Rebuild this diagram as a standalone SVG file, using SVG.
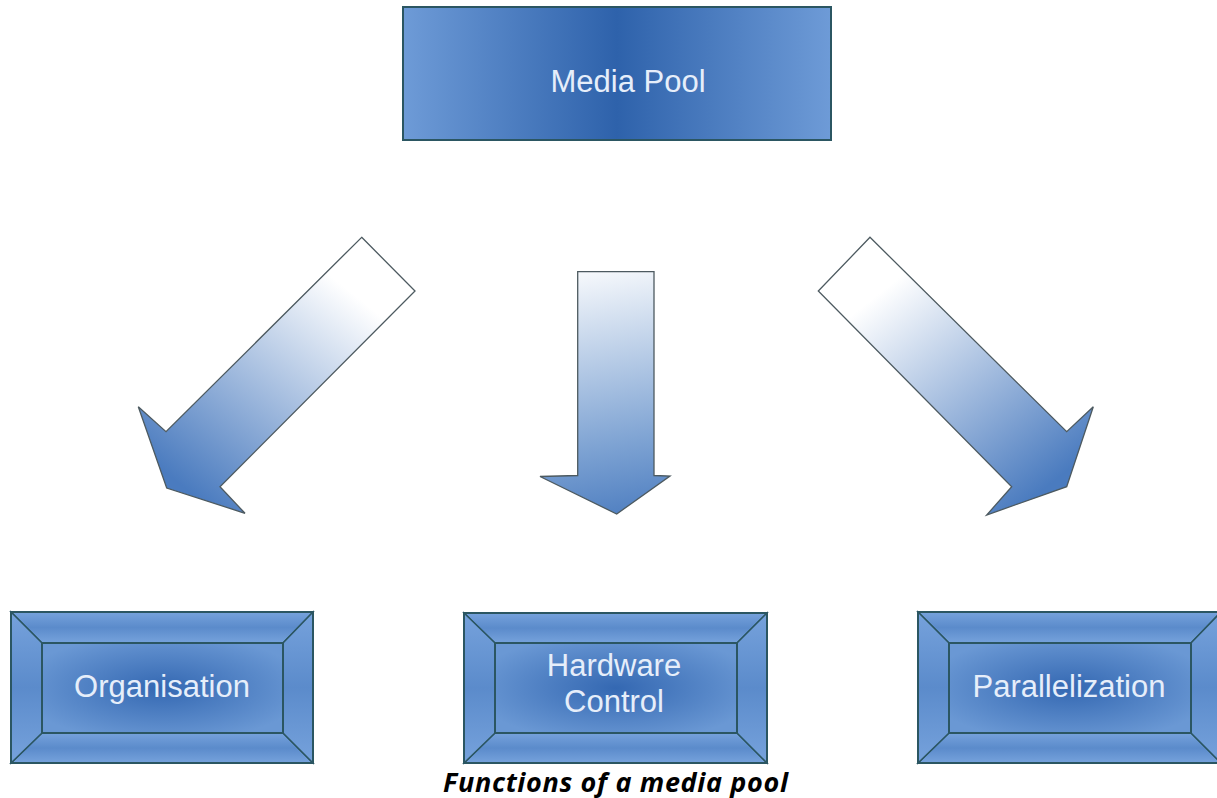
<svg xmlns="http://www.w3.org/2000/svg" width="1217" height="798" viewBox="0 0 1217 798">
<defs>
<linearGradient id="topGrad" x1="0" y1="0" x2="1" y2="0">
<stop offset="0" stop-color="#6e9bd7"/>
<stop offset="0.5" stop-color="#2e62ab"/>
<stop offset="1" stop-color="#6e9bd7"/>
</linearGradient>
<radialGradient id="innerGrad" cx="0.5" cy="0.5" r="0.6">
<stop offset="0" stop-color="#3468b2"/>
<stop offset="1" stop-color="#6a98d4"/>
</radialGradient>
<linearGradient id="bevelGrad" x1="0" y1="0" x2="0" y2="1">
<stop offset="0" stop-color="#76a2dc"/>
<stop offset="0.5" stop-color="#5b8bcb"/>
<stop offset="1" stop-color="#76a2dc"/>
</linearGradient>
<linearGradient id="arrowL" gradientUnits="userSpaceOnUse" x1="388" y1="264" x2="200" y2="500">
<stop offset="0.15" stop-color="#ffffff"/>
<stop offset="1" stop-color="#4a7bbf"/>
</linearGradient>
<linearGradient id="arrowM" gradientUnits="userSpaceOnUse" x1="600" y1="272" x2="640" y2="515">
<stop offset="0" stop-color="#f4f7fb"/>
<stop offset="0.7" stop-color="#7ea3d3"/>
<stop offset="1" stop-color="#4f7fc1"/>
</linearGradient>
<linearGradient id="arrowR" gradientUnits="userSpaceOnUse" x1="844" y1="264" x2="1030" y2="500">
<stop offset="0.15" stop-color="#ffffff"/>
<stop offset="1" stop-color="#4a7bbf"/>
</linearGradient>
<style>
.box{stroke:#2b5662;stroke-width:2}
.label{font-family:"Liberation Sans",Arial,sans-serif;font-size:31px;fill:#e6eefa;text-anchor:middle}
.arrow{stroke:#4d5a60;stroke-width:1.3;stroke-linejoin:miter}
.bevel{fill:url(#bevelGrad);stroke:#2b5662;stroke-width:1.5}
.inner{fill:url(#innerGrad);stroke:#2b5662;stroke-width:2}
.caption{font-family:"Open Sans","DejaVu Sans",sans-serif;font-size:27px;font-weight:bold;font-style:italic;fill:#000;text-anchor:middle}
</style>
</defs>
<rect width="1217" height="798" fill="#ffffff"/>

<g id="media-pool">
<rect class="box" x="403" y="7" width="428" height="133" fill="url(#topGrad)"/>
<text class="label" x="628" y="92">Media Pool</text>
</g>

<g id="connectors">
<polygon class="arrow" fill="url(#arrowL)" points="361.7,237.3 415,291 220,486.7 245,513.3 166.7,488 138.3,406.7 166,431.7"/>
<polygon class="arrow" fill="url(#arrowM)" points="577.7,271.7 654,271.7 654,475.5 670,476 616.7,514 540,476.5 577.7,475.5"/>
<polygon class="arrow" fill="url(#arrowR)" points="870,237.3 1066.7,431.7 1093.3,406.7 1066.7,486.7 986.7,515 1011.7,486.7 818.3,291"/>
</g>

<g id="organisation">
<rect class="box" x="11" y="612" width="302" height="151" fill="#5f8fcf"/>
<polygon class="bevel" points="11,612 313,612 283,643 42,643"/>
<polygon class="bevel" points="11,763 313,763 283,733 42,733"/>
<polygon class="bevel" points="11,612 42,643 42,733 11,763"/>
<polygon class="bevel" points="313,612 283,643 283,733 313,763"/>
<rect class="inner" x="42" y="643" width="241" height="90"/>
<rect x="11" y="612" width="302" height="151" fill="none" stroke="#2b5662" stroke-width="2"/>
<text class="label" x="162" y="697">Organisation</text>
</g>

<g id="hardware-control">
<rect class="box" x="464" y="613" width="303" height="150" fill="#5f8fcf"/>
<polygon class="bevel" points="464,613 767,613 737,643 495,643"/>
<polygon class="bevel" points="464,763 767,763 737,733 495,733"/>
<polygon class="bevel" points="464,613 495,643 495,733 464,763"/>
<polygon class="bevel" points="767,613 737,643 737,733 767,763"/>
<rect class="inner" x="495" y="643" width="242" height="90"/>
<rect x="464" y="613" width="303" height="150" fill="none" stroke="#2b5662" stroke-width="2"/>
<text class="label" x="614" y="676">Hardware</text>
<text class="label" x="614" y="712">Control</text>
</g>

<g id="parallelization">
<rect class="box" x="918" y="612" width="303" height="151" fill="#5f8fcf"/>
<polygon class="bevel" points="918,612 1221,612 1191,643 949,643"/>
<polygon class="bevel" points="918,763 1221,763 1191,733 949,733"/>
<polygon class="bevel" points="918,612 949,643 949,733 918,763"/>
<polygon class="bevel" points="1221,612 1191,643 1191,733 1221,763"/>
<rect class="inner" x="949" y="643" width="242" height="90"/>
<rect x="918" y="612" width="303" height="151" fill="none" stroke="#2b5662" stroke-width="2"/>
<text class="label" x="1069" y="697">Parallelization</text>
</g>

<text class="caption" x="615.5" y="792" textLength="345" lengthAdjust="spacing">Functions of a media pool</text>
</svg>
